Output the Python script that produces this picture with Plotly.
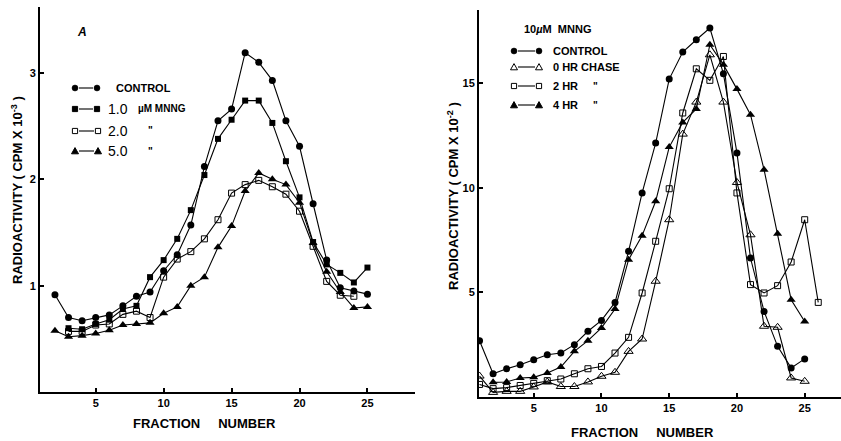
import plotly.graph_objects as go

# ---------------- DATA ----------------
# Panel A (left): radioactivity (CPM x 10^-3)
fracA_control = list(range(2, 26))
A_control = [0.915, 0.70, 0.67, 0.70, 0.725, 0.81, 0.90, 0.94, 1.14, 1.29, 1.57, 2.12,
             2.55, 2.66, 3.19, 3.10, 2.93, 2.55, 2.31, 1.77, 1.24, 0.98, 0.95, 0.92]
fracA_1uM = list(range(3, 26))
A_1uM = [0.60, 0.59, 0.64, 0.68, 0.78, 0.81, 1.08, 1.24, 1.44, 1.71, 2.04, 2.38,
         2.56, 2.74, 2.74, 2.53, 2.17, 1.83, 1.41, 1.20, 1.12, 1.03, 1.17]
fracA_2uM = list(range(3, 25))
A_2uM = [0.57, 0.57, 0.63, 0.64, 0.73, 0.76, 0.70, 1.08, 1.25, 1.32, 1.44, 1.62,
         1.87, 1.95, 1.99, 1.93, 1.86, 1.70, 1.37, 1.04, 0.91, 0.90]
fracA_5uM = list(range(2, 26))
A_5uM = [0.575, 0.52, 0.53, 0.55, 0.58, 0.63, 0.64, 0.65, 0.74, 0.80, 1.00, 1.08,
         1.36, 1.56, 1.89, 2.06, 2.00, 1.95, 1.78, 1.40, 1.13, 0.94, 0.79, 0.80]

# Panel B (right): radioactivity (CPM x 10^-2), 10 uM MNNG
fracB_control = list(range(1, 26))
B_control = [2.69, 1.11, 1.35, 1.54, 1.78, 2.02, 2.10, 2.50, 3.14, 3.66, 4.52, 6.96,
             9.75, 12.13, 15.19, 16.48, 17.07, 17.63, 15.45, 11.66, 6.64, 4.09, 2.42, 1.39, 1.82]
fracB_0hr = list(range(1, 26))
B_0hr = [1.0, 0.22, 0.27, 0.27, 0.48, 0.72, 0.50, 0.50, 0.72, 0.99, 1.18, 2.18,
         2.77, 5.53, 8.47, 12.56, 14.09, 16.35, 14.09, 10.25, 7.75, 3.38, 3.33, 0.91, 0.75]
fracB_2hr = list(range(1, 27))
B_2hr = [0.6, 0.40, 0.45, 0.55, 0.65, 0.78, 0.86, 1.11, 1.35, 1.46, 2.10, 2.85,
         4.97, 7.44, 9.95, 13.57, 15.68, 15.13, 16.27, 9.75, 5.37, 4.97, 5.32, 6.45, 8.47, 4.52]
fracB_4hr = list(range(2, 26))
B_4hr = [0.70, 0.72, 0.91, 0.94, 1.15, 1.43, 2.18, 2.69, 3.30, 4.20, 6.56, 7.71,
         9.35, 11.94, 13.12, 13.76, 16.83, 15.88, 14.71, 13.49, 10.86, 7.80, 4.65, 3.61]

x_ticks = [5, 10, 15, 20, 25]
A_yticks = [1, 2, 3]
B_yticks = [5, 10, 15]

# ---------------- FIGURE ----------------
W, H = 841, 441
FONT = "Liberation Sans, Arial, sans-serif"
fig = go.Figure()

def px(x):
    return x / W

def py(y):
    return 1 - y / H

STY = {
    "circle": dict(symbol="circle", size=7, color="black"),
    "square": dict(symbol="square", size=6, color="black"),
    "osquare": dict(symbol="square-open", size=6, color="black", line=dict(width=1)),
    "triangle": dict(symbol="triangle-up", size=8, color="black"),
    "otriangle": dict(symbol="triangle-up-open", size=8, color="black", line=dict(width=1)),
}

def add(x, y, sty, xa, ya):
    fig.add_trace(go.Scatter(x=x, y=y, mode="lines+markers", xaxis=xa, yaxis=ya,
                             line=dict(color="black", width=1.1), marker=STY[sty],
                             showlegend=False, hoverinfo="skip"))

add(fracA_control, A_control, "circle", "x", "y")
add(fracA_1uM, A_1uM, "square", "x", "y")
add(fracA_2uM, A_2uM, "osquare", "x", "y")
add(fracA_5uM, A_5uM, "triangle", "x", "y")

add(fracB_control, B_control, "circle", "x2", "y2")
add(fracB_0hr, B_0hr, "otriangle", "x2", "y2")
add(fracB_2hr, B_2hr, "osquare", "x2", "y2")
add(fracB_4hr, B_4hr, "triangle", "x2", "y2")

axcommon = dict(showline=True, linecolor="black", linewidth=2, showgrid=False,
                zeroline=False, ticks="inside", ticklen=4, tickwidth=1.5, tickcolor="black",
                automargin=False,
                tickfont=dict(family=FONT, size=11, color="black", weight="bold"))

fig.update_layout(
    width=W, height=H, margin=dict(l=0, r=0, t=0, b=0),
    paper_bgcolor="white", plot_bgcolor="white",
    xaxis=dict(domain=[px(40), px(415)], range=[0.9, 28.5], tickvals=x_ticks,
               anchor="y", **axcommon),
    yaxis=dict(domain=[py(392), py(7)], range=[0, 3.62], tickvals=A_yticks,
               anchor="x", **axcommon),
    xaxis2=dict(domain=[px(479), 1.0], range=[0.96, 27.68], tickvals=x_ticks,
                anchor="y2", **axcommon),
    yaxis2=dict(domain=[py(397), py(10)], range=[0, 18.49], tickvals=B_yticks,
                anchor="x2", **axcommon),
)

ann = []

def text(x, y, s, size=11, xanchor="left", angle=0, bold=True, italic=False):
    ann.append(dict(x=px(x), y=py(y), xref="paper", yref="paper", text=s, showarrow=False,
                    xanchor=xanchor, yanchor="middle", textangle=angle,
                    font=dict(family=FONT, size=size, color="black",
                              weight="bold" if bold else "normal",
                              style="italic" if italic else "normal")))

# axis titles
text(204, 423, "FRACTION&nbsp;&nbsp;&nbsp;&nbsp;&nbsp;NUMBER", size=13, xanchor="center")
text(642, 432, "FRACTION&nbsp;&nbsp;&nbsp;&nbsp;&nbsp;NUMBER", size=13, xanchor="center")
text(17, 190, "RADIOACTIVITY ( CPM X 10<sup>-3</sup> )", size=13, xanchor="center", angle=-90)
text(453, 196, "RADIOACTIVITY ( CPM X 10<sup>-2</sup> )", size=13, xanchor="center", angle=-90)

# panel label
text(82, 32, "A", size=12, xanchor="center", italic=True)

shapes = []

def key(x1, x2, y, sty):
    shapes.append(dict(type="line", xref="paper", yref="paper", x0=px(x1 + 4), x1=px(x2 - 4),
                       y0=py(y), y1=py(y), line=dict(color="black", width=1.1)))
    for xc in (x1, x2):
        if sty in ("circle",):
            shapes.append(dict(type="circle", xref="paper", yref="paper", xsizemode="pixel",
                               ysizemode="pixel", xanchor=px(xc), yanchor=py(y),
                               x0=-3, x1=3, y0=-3, y1=3, fillcolor="black",
                               line=dict(color="black", width=0.5)))
        elif sty in ("square", "osquare"):
            shapes.append(dict(type="rect", xref="paper", yref="paper", xsizemode="pixel",
                               ysizemode="pixel", xanchor=px(xc), yanchor=py(y),
                               x0=-2.6, x1=2.6, y0=-2.6, y1=2.6,
                               fillcolor="black" if sty == "square" else "white",
                               line=dict(color="black", width=1)))
        else:
            shapes.append(dict(type="path", xref="paper", yref="paper", xsizemode="pixel",
                               ysizemode="pixel", xanchor=px(xc), yanchor=py(y),
                               path="M -3.5 -2.8 L 3.5 -2.8 L 0 3.4 Z",
                               fillcolor="black" if sty == "triangle" else "white",
                               line=dict(color="black", width=1)))

# left legend
key(75, 97, 88, "circle")
text(114, 88, "CONTROL", size=11)
key(75, 97, 109, "square")
text(106, 109, "1.0", size=14, bold=False)
text(136, 109, "µM MNNG", size=10)
key(75, 98, 131, "osquare")
text(106, 131, "2.0", size=14, bold=False)
text(150, 131, "\"", size=10, xanchor="center")
key(75, 98, 151, "triangle")
text(106, 151, "5.0", size=14, bold=False)
text(150, 151, "\"", size=10, xanchor="center")

# right legend
text(522, 29, "10<i>µ</i>M&nbsp;&nbsp;MNNG", size=11)
key(514, 539, 51, "circle")
text(551, 51, "CONTROL", size=11)
key(514, 539, 67, "otriangle")
text(551, 67, "0 HR CHASE", size=11)
key(514, 539, 86, "osquare")
text(551, 86, "2 HR", size=11)
text(595, 86, "\"", size=10, xanchor="center")
key(514, 539, 105, "triangle")
text(551, 105, "4 HR", size=11)
text(595, 105, "\"", size=10, xanchor="center")

fig.update_layout(annotations=ann, shapes=shapes)
fig.write_html("out.html", config={"displayModeBar": False},
               post_script="document.body.style.margin='0px';document.body.style.overflow='hidden';")
